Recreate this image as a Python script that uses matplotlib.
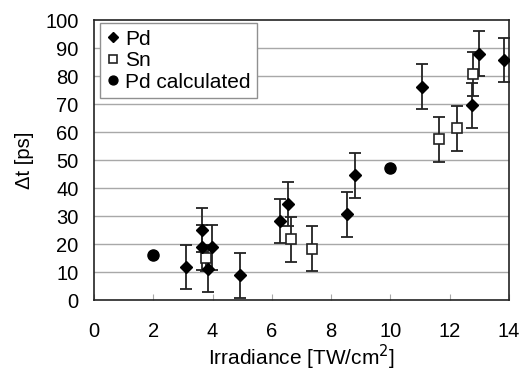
import numpy as np
import matplotlib
matplotlib.use("Agg")
import matplotlib.pyplot as plt

plt.rcParams['font.family'] = ['Liberation Sans', 'DejaVu Sans']

# Pd measured
pd_x = [3.12, 3.63, 3.63, 3.99, 3.83, 4.92, 6.27, 6.55, 8.52, 8.81, 11.05, 12.76, 12.99, 13.83]
pd_y = [11.8, 25.0, 18.8, 18.8, 11.2, 8.8, 28.2, 34.3, 30.6, 44.5, 76.2, 69.6, 87.9, 85.7]
pd_err = [8, 8, 8, 8, 8.3, 8, 8, 8, 8, 8, 8, 8, 8, 8]

# Sn measured
sn_x = [3.78, 6.64, 7.37, 11.64, 12.26, 12.79]
sn_y = [15.0, 21.7, 18.3, 57.4, 61.3, 80.7]
sn_err = [4.5, 8, 8, 8, 8, 8]

# Pd calculated
calc_x = [2.0, 10.0]
calc_y = [16.1, 47.3]

fig = plt.figure(figsize=(5.31, 3.75), dpi=100)
ax = fig.add_axes([94/531, 1 - 300/375, 415/531, 280/375])

for y in range(10, 100, 10):
    ax.axhline(y, color='#a8a8a8', lw=1.0, zorder=0)

ax.errorbar(sn_x, sn_y, yerr=sn_err, fmt='none', ecolor='#222222', elinewidth=1.3,
            capsize=4.3, capthick=1.3, zorder=2)
ax.errorbar(pd_x, pd_y, yerr=pd_err, fmt='none', ecolor='#222222', elinewidth=1.3,
            capsize=4.3, capthick=1.3, zorder=2)
ax.plot(pd_x, pd_y, 'D', color='black', ms=6, ls='none', label='Pd', zorder=4)
ax.plot(sn_x, sn_y, 's', mfc='white', mec='#222222', mew=1.2, ms=7, ls='none',
        label='Sn', zorder=3)
ax.plot(calc_x, calc_y, 'o', color='black', ms=8, ls='none', label='Pd calculated', zorder=4)

ax.set_xlim(0, 14)
ax.set_ylim(0, 100)
ax.set_xticks(np.arange(0, 15, 2))
ax.set_yticks(np.arange(0, 101, 10))
ax.tick_params(axis='x', direction='in', length=4, color='#a8a8a8', pad=16, labelsize=14.5)
ax.tick_params(axis='y', direction='in', length=0, pad=11, labelsize=14.5)
for s in ax.spines.values():
    s.set_color('#222222')
    s.set_linewidth(1.2)

ax.set_xlabel('Irradiance [TW/cm$^2$]', fontsize=15, labelpad=1)
ax.set_ylabel('Δt [ps]', fontsize=14.5, labelpad=8)

leg = ax.legend(loc='upper left', bbox_to_anchor=(0.015, 0.988), fontsize=15,
                frameon=True, fancybox=False, edgecolor='#909090', framealpha=1,
                handlelength=0.6, handletextpad=0.3, borderpad=0.3, labelspacing=0.12,
                borderaxespad=0, markerscale=0.8)
leg.get_frame().set_linewidth(1.0)

fig.savefig('out.png', dpi=100)
